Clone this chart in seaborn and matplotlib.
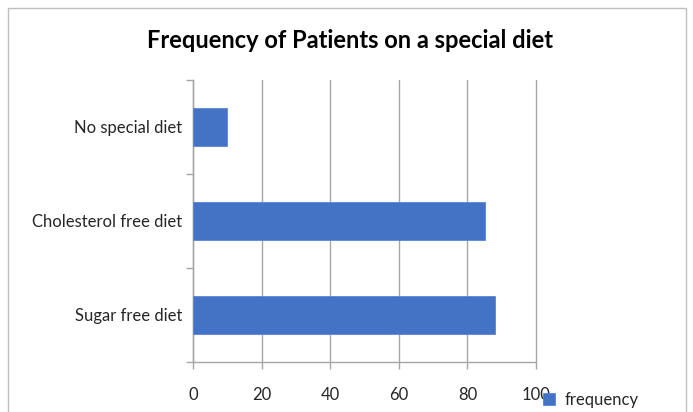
import matplotlib
matplotlib.use("Agg")
import matplotlib.pyplot as plt
import seaborn as sns
import pandas as pd
from matplotlib.patches import Rectangle

categories = ["No special diet", "Cholesterol free diet", "Sugar free diet"]
frequency = [10, 85, 88]
x_ticks = [0, 20, 40, 60, 80, 100]
title = "Frequency of Patients on a special diet"
series_name = "frequency"

sns.set_theme(style="white")
plt.rcParams['font.family'] = ['Lato', 'DejaVu Sans']

df = pd.DataFrame({"category": categories, "frequency": frequency})

fig = plt.figure(figsize=(6.93, 4.12), dpi=100)
ax = fig.add_axes([0.2785, 0.1214, 0.495, 0.6846])

sns.barplot(data=df, x="frequency", y="category", order=categories, orient="h",
            color="#4472C4", width=0.41, saturation=1, ax=ax, label=series_name,
            edgecolor="#5a86d6", linewidth=0.6, zorder=3)

ax.set_xlim(0, 100)
ax.set_ylim(2.5, -0.5)
ax.set_xticks(x_ticks)
ax.set_xticklabels([str(t) for t in x_ticks])
ax.xaxis.grid(True, color="#a6a6a6", linewidth=1.0, zorder=0)
for gl in ax.get_xgridlines():
    gl.set_clip_on(False)
ax.yaxis.grid(False)
ax.set_xlabel("")
ax.set_ylabel("")

for s in ["top", "right"]:
    ax.spines[s].set_visible(False)
for s in ["left", "bottom"]:
    ax.spines[s].set_visible(True)
    ax.spines[s].set_color("#a6a6a6")
    ax.spines[s].set_linewidth(1.0)

ax.tick_params(axis="x", which="major", length=5, width=1, color="#a6a6a6",
               direction="out", bottom=True, labelsize=12, labelcolor="#262626", pad=13)
ax.tick_params(axis="y", which="major", length=0, labelsize=12, labelcolor="#262626", pad=8)
ax.set_yticks([-0.5, 0.5, 1.5, 2.5], minor=True)
ax.tick_params(axis="y", which="minor", length=5, width=1, color="#a6a6a6", left=True)

fig.text(0.505, 0.902, title, ha="center", va="center", fontsize=17,
         fontweight="bold", color="black")

handles, labels = ax.get_legend_handles_labels()
ax.legend(handles, labels, loc="center left", bbox_to_anchor=(0.762, 0.03),
          bbox_transform=fig.transFigure, frameon=False, fontsize=12,
          handlelength=0.7, handleheight=0.7, handletextpad=0.6,
          labelcolor="#262626")

fig.patches.append(Rectangle((8/693, -0.05), (686-8)/693, 1 - 8/412 + 0.05,
                             transform=fig.transFigure, fill=False,
                             edgecolor="#bfbfbf", linewidth=1.0))

fig.savefig("out.png", dpi=100)
